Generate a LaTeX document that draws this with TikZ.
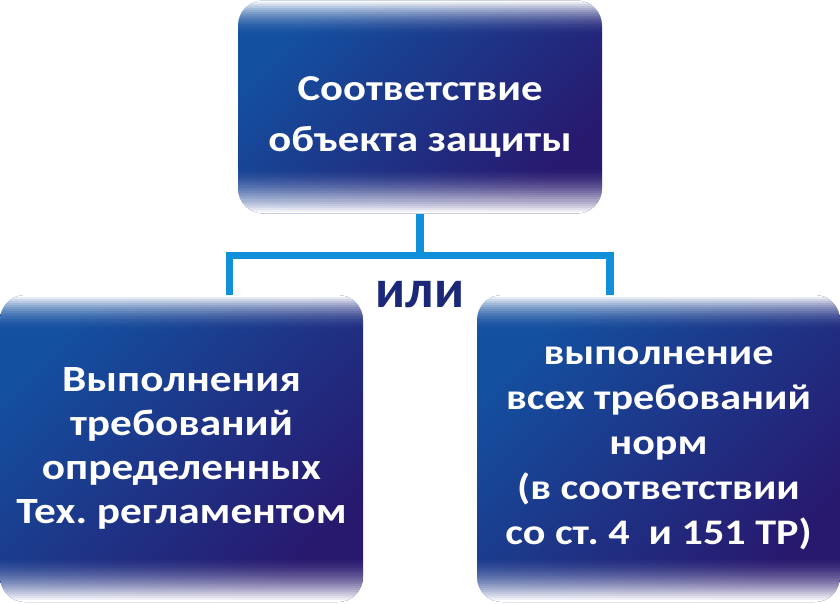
\documentclass[tikz,border=0pt]{standalone}
\usepackage{fontspec}
\setmainfont{Carlito}[FakeStretch=1.17]
\newfontfamily\orfont{Carlito}
\usetikzlibrary{positioning}

\definecolor{boxblue}{RGB}{20,80,160}
\definecolor{boxpurple}{RGB}{40,24,110}
\definecolor{linkblue}{RGB}{16,144,216}
\definecolor{orblue}{RGB}{27,40,120}

\frenchspacing
\begin{document}
\begin{tikzpicture}[
    x=1pt, y=-1pt,
    panel/.style={rounded corners=25pt, inner sep=0pt, align=center,
        text=white, font=\bfseries\fontsize{36}{45}\selectfont,
        top color=boxblue, bottom color=boxpurple, shading angle=45,
        path picture={
            % white glow at the top edge
            \foreach \k [evaluate=\k as \op using (1-\k/18)^2] in {0,...,17}
                \fill[sharp corners, white, opacity=\op]
                    ([yshift={-2*\k}]path picture bounding box.north west)
                    rectangle ([yshift={-2*\k-2}]path picture bounding box.north east);
            % white glow at the bottom edge
            \foreach \k [evaluate=\k as \op using (1-\k/22)^1.6] in {0,...,21}
                \fill[sharp corners, white, opacity=\op]
                    ([yshift={2*\k}]path picture bounding box.south west)
                    rectangle ([yshift={2*\k+2}]path picture bounding box.south east);
        }},
    link/.style={draw=linkblue, line width=7.5pt, miter limit=10}
]
\useasboundingbox (0,0) rectangle (840,604);

% --- Junction points ---
\coordinate (jl) at (229.5,255.5);
\coordinate (jr) at (610,255.5);

% --- Boxes ---
\node[panel, minimum width=364pt, minimum height=213pt,
      font=\bfseries\fontsize{36.5}{51}\selectfont] (top) at (420,107)
    {\rule{0pt}{44pt}Соответствие\\объекта защиты};
\node[panel, minimum width=363pt, minimum height=307pt,
      font=\bfseries\fontsize{37}{44}\selectfont] (left) at (181.5,448.5)
    {Выполнения\\требований\\определенных\\Тех. регламентом};
\node[panel, minimum width=363pt, minimum height=307pt] (right) at (658.5,448.5)
    {выполнение\\всех требований\\норм\\(в соответствии\\со ст. 4~~и 151 ТР)};

% --- Connectors ---
\draw[link] (top.south) -- (top.south |- jl);
\draw[link] (jl |- left.north) -- (jl) -- (jr) -- (jr |- right.north);

% --- Label ---
\node[anchor=base, text=orblue, font=\orfont\bfseries\fontsize{54}{54}\selectfont]
    (ili) at (420,307) {или};

\end{tikzpicture}
\end{document}
